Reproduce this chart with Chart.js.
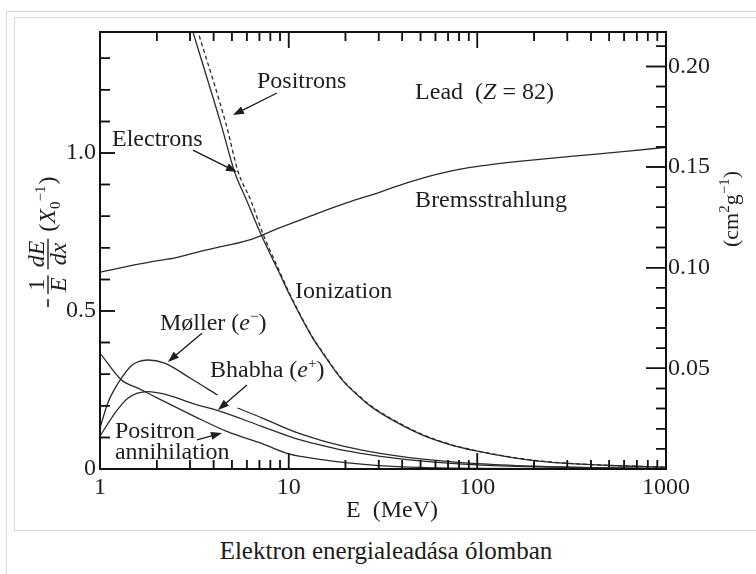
<!DOCTYPE html>
<html><head><meta charset="utf-8">
<script src="https://cdn.jsdelivr.net/npm/chart.js@4/dist/chart.umd.min.js"></script>
<style>
html,body{margin:0;padding:0;background:#fff;width:756px;height:574px;overflow:hidden;}
#outer{position:absolute;left:6px;top:11px;width:800px;height:600px;border:1px solid #d4d6d9;box-sizing:border-box;}
#inner{position:absolute;left:14px;top:17px;width:800px;height:514px;border:1px solid #d4d6d9;box-sizing:border-box;}
#wrap{position:absolute;left:0;top:0;width:756px;height:530px;z-index:2;}
#ov{position:absolute;left:0;top:0;width:756px;height:530px;z-index:5;pointer-events:none;}
#cap{position:absolute;left:14px;width:744px;top:536px;text-align:center;font:25px 'Liberation Serif','Times New Roman',serif;color:#1a1a1a;line-height:30px;}
</style></head>
<body>
<div id="outer"></div>
<div id="inner"></div>
<div id="wrap"><canvas id="c"></canvas></div>
<canvas id="ov" width="756" height="530"></canvas>
<div id="cap">Elektron energialeadása ólomban</div>
<script>
// ---- data ----
const X0_LEAD = 6.37;          // g/cm^2 : converts left axis (X0^-1) to right axis (cm^2 g^-1)
const Y_MAX = 1.383;
const energyTickLabels = [1, 10, 100, 1000];
const leftTickLabels = [0, 0.5, 1.0];
const rightTickLabels = [0.05, 0.10, 0.15, 0.20];

const bremsE = [1, 1.5, 1.95, 2.5, 3.18, 4.5, 6.35, 8.93, 13, 20.2, 30, 41.9, 60, 82.6, 100, 120, 151, 250, 400, 650, 1000];
const bremsV = [0.623, 0.645, 0.658, 0.668, 0.684, 0.705, 0.727, 0.763, 0.80, 0.842, 0.875, 0.905, 0.932, 0.950, 0.958, 0.964, 0.971, 0.984, 0.995, 1.007, 1.018];

const ionElE = [3.0, 3.11, 4.39, 5.17, 6.0, 7.15, 8.93, 10.1, 13.3, 15, 19.2, 24.5, 27.7, 35, 50.9, 70, 98.5, 150, 211, 300, 500, 1000];
const ionElV = [1.414, 1.383, 1.089, 0.940, 0.849, 0.741, 0.620, 0.552, 0.418, 0.371, 0.282, 0.221, 0.195, 0.157, 0.108, 0.079, 0.057, 0.037, 0.025, 0.0176, 0.011, 0.0055];

const ionPoE = [3.19, 3.31, 4.67, 5.4, 6.3, 7.3, 9.0, 10.1, 13.3, 15, 19.2, 24.5, 27.7, 35, 50.9, 70, 98.5, 150, 211, 300, 500, 1000];
const ionPoV = [1.414, 1.383, 1.089, 0.940, 0.850, 0.745, 0.622, 0.556, 0.420, 0.373, 0.284, 0.223, 0.197, 0.159, 0.110, 0.080, 0.058, 0.038, 0.026, 0.018, 0.0115, 0.006];

const mollerE = [1, 1.1, 1.2, 1.31, 1.48, 1.6, 1.79, 2.2, 3.0, 4.2, 4.7, 5.35, 7.2, 10.7, 15, 20, 30, 50, 100, 200, 400, 1000];
const mollerV = [0.13, 0.209, 0.255, 0.291, 0.329, 0.340, 0.345, 0.335, 0.288, 0.234, null, 0.193, 0.162, 0.118, 0.090, 0.071, 0.050, 0.032, 0.017, 0.009, 0.0045, 0.002];

const bhabhaE = [1, 1.2, 1.41, 1.79, 2.2, 3.18, 4.3, 7.2, 10.7, 15, 20, 30, 50, 100, 200, 400, 1000];
const bhabhaV = [0.104, 0.177, 0.225, 0.245, 0.237, 0.205, 0.183, 0.135, 0.098, 0.075, 0.058, 0.041, 0.026, 0.013, 0.0065, 0.0033, 0.0014];

const annihE = [1, 1.3, 1.6, 2.12, 3.18, 4.74, 7.18, 10, 15, 20, 30, 50, 100, 1000];
const annihV = [0.367, 0.282, 0.255, 0.218, 0.166, 0.118, 0.081, 0.048, 0.030, 0.020, 0.011, 0.005, 0.002, 0.0002];

// ---- annotation anchors (data coordinates: energy, value) ----
const labelDefs = [
  {parts:[{t:'Positrons'}], E:6.79, v:1.206},
  {parts:[{t:'Electrons'}], E:1.158, v:1.022},
  {parts:[{t:'Lead  ('},{t:'Z',i:1},{t:' = 82)'}], E:46.8, v:1.171},
  {parts:[{t:'Bremsstrahlung'}], E:46.8, v:0.829},
  {parts:[{t:'Ionization'}], E:10.8, v:0.541},
  {parts:[{t:'Møller ('},{t:'e',i:1},{t:'−',s:15,dy:-9},{t:')'}], E:2.08, v:0.440},
  {parts:[{t:'Bhabha ('},{t:'e',i:1},{t:'+',s:15,dy:-9},{t:')'}], E:3.83, v:0.291},
  {parts:[{t:'Positron'}], E:1.2, v:0.098},
  {parts:[{t:'annihilation'}], E:1.2, v:0.032},
];
const arrowDefs = [
  {from:[8.67,1.190], to:[5.07,1.120]},
  {from:[3.11,1.009], to:[5.32,0.940]},
  {from:[3.47,0.430], to:[2.29,0.339]},
  {from:[6.01,0.266], to:[4.22,0.187]},
  {from:[3.27,0.092], to:[4.43,0.114]},
];

const FAM = "'Liberation Serif','Times New Roman',serif";
const INK = '#1e1e1e';

function mk(E, V, extra) {
  return Object.assign({
    data: E.map((e, i) => ({x: e, y: V[i]})),
    yAxisID: 'y', borderColor: '#2a2a2a', borderWidth: 1.3, pointRadius: 0,
    fill: false, cubicInterpolationMode: 'monotone', spanGaps: false
  }, extra);
}

function rich(ctx, parts, x, y, size) {
  for (const p of parts) {
    ctx.font = (p.i ? 'italic ' : '') + (p.s || size) + 'px ' + FAM;
    ctx.fillText(p.t, x, y + (p.dy || 0));
    x += ctx.measureText(p.t).width + (p.k || 0);
  }
  return x;
}
function richWidth(ctx, parts, size) {
  let w = 0;
  for (const p of parts) {
    ctx.font = (p.i ? 'italic ' : '') + (p.s || size) + 'px ' + FAM;
    w += ctx.measureText(p.t).width + (p.k || 0);
  }
  return w;
}
function arrow(ctx, x1, y1, x2, y2) {
  const a = Math.atan2(y2 - y1, x2 - x1), L = 11, W = 4;
  ctx.beginPath(); ctx.moveTo(x1, y1); ctx.lineTo(x2 - Math.cos(a) * L * 0.8, y2 - Math.sin(a) * L * 0.8); ctx.stroke();
  ctx.beginPath();
  ctx.moveTo(x2, y2);
  ctx.lineTo(x2 - Math.cos(a) * L - Math.sin(a) * W, y2 - Math.sin(a) * L + Math.cos(a) * W);
  ctx.lineTo(x2 - Math.cos(a) * L + Math.sin(a) * W, y2 - Math.sin(a) * L - Math.cos(a) * W);
  ctx.closePath(); ctx.fill();
}
function fraction(ctx, num, den, u) {
  const wn = richWidth(ctx, num, 24), wd = richWidth(ctx, den, 24);
  const w = Math.max(wn, wd) + 4;
  rich(ctx, num, u + (w - wn) / 2, -4, 24);
  rich(ctx, den, u + (w - wd) / 2, 18, 24);
  ctx.fillRect(u, -0.7, w, 1.4);
  return u + w;
}

// inward tick marks, positioned through the chart's own scales
function drawTicks(chart, ctx) {
  const a = chart.chartArea;
  const xs = chart.scales.x, ys = chart.scales.y, y2 = chart.scales.y2;
  ctx.save();
  ctx.globalAlpha = 1;
  ctx.globalCompositeOperation = 'source-over';
  ctx.strokeStyle = '#111111';
  ctx.lineWidth = 1.5;
  ctx.beginPath();
  for (const d of [1, 10, 100]) {
    for (const m of [1, 2, 3, 4, 5, 6, 7, 8, 9]) {
      const px = xs.getPixelForValue(m * d), len = m === 1 ? 16 : 9;
      ctx.moveTo(px, a.bottom); ctx.lineTo(px, a.bottom - len);
      ctx.moveTo(px, a.top); ctx.lineTo(px, a.top + len);
    }
  }
  for (let k = 1; k <= 13; k++) {
    const py = ys.getPixelForValue(k / 10), len = (k % 5 === 0) ? 15 : 10;
    ctx.moveTo(a.left, py); ctx.lineTo(a.left + len, py);
  }
  for (let k = 1; k <= 21; k++) {
    const py = y2.getPixelForValue(k / 100), len = (k % 5 === 0) ? 20 : 10;
    ctx.moveTo(a.right, py); ctx.lineTo(a.right - len, py);
  }
  ctx.stroke();
  ctx.lineWidth = 2;
  ctx.strokeRect(a.left, a.top, a.right - a.left, a.bottom - a.top);
  ctx.restore();
}

const axesDecor = {
  id: 'axesDecor',
  afterDraw(chart) {
    drawTicks(chart, chart.ctx);
    const ov = document.getElementById('ov');
    const octx = ov.getContext('2d');
    octx.setTransform(1, 0, 0, 1, 0, 0);
    octx.clearRect(0, 0, ov.width, ov.height);
    drawTicks(chart, octx);
  }
};

const textDecor = {
  id: 'textDecor',
  afterDatasetsDraw(chart) {
    const ctx = chart.ctx, a = chart.chartArea;
    const xs = chart.scales.x, ys = chart.scales.y;
    ctx.save();
    ctx.fillStyle = INK;
    ctx.textBaseline = 'alphabetic'; ctx.textAlign = 'left';
    for (const L of labelDefs) {
      rich(ctx, L.parts, xs.getPixelForValue(L.E), ys.getPixelForValue(L.v), 24);
    }
    ctx.lineWidth = 1.3; ctx.strokeStyle = '#1a1a1a';
    for (const A of arrowDefs) {
      arrow(ctx, xs.getPixelForValue(A.from[0]), ys.getPixelForValue(A.from[1]),
                 xs.getPixelForValue(A.to[0]), ys.getPixelForValue(A.to[1]));
    }
    const xt = [{t:'E  (MeV)'}];
    const cx = (a.left + a.right) / 2 + 9;
    rich(ctx, xt, cx - richWidth(ctx, xt, 24) / 2, a.bottom + 48, 24);
    ctx.save();
    ctx.translate(a.left - 52, a.bottom - 162);
    ctx.rotate(-Math.PI / 2);
    ctx.fillRect(0, -0.8, 8, 1.6);
    let u = fraction(ctx, [{t:'1'}], [{t:'E', i:1}], 13);
    u = fraction(ctx, [{t:'dE', i:1}], [{t:'dx', i:1}], u + 6);
    rich(ctx, [{t:'('},{t:'X',i:1},{t:'0',s:15,dy:5},{t:'−1',s:15,dy:-10,k:1},{t:')'}], u + 7, 7, 24);
    ctx.restore();
    ctx.save();
    ctx.translate(a.right + 72, a.top + 215);
    ctx.rotate(-Math.PI / 2);
    rich(ctx, [{t:'(cm'},{t:'2',s:15,dy:-9},{t:'g'},{t:'−1',s:15,dy:-9},{t:')'}], 0, 0, 22);
    ctx.restore();
    ctx.restore();
  }
};

const tickFont = {family: FAM, size: 24};
new Chart(document.getElementById('c'), {
  type: 'line',
  data: {datasets: [
    mk(bremsE, bremsV, {}),
    mk(ionElE, ionElV, {}),
    mk(ionPoE, ionPoV, {borderDash: [4, 3]}),
    mk(mollerE, mollerV, {}),
    mk(bhabhaE, bhabhaV, {}),
    mk(annihE, annihV, {}),
  ]},
  options: {
    responsive: true, maintainAspectRatio: false, animation: false,
    layout: {padding: {top: 32, left: 0, right: 0, bottom: 0}},
    plugins: {legend: {display: false}, tooltip: {enabled: false}},
    scales: {
      x: {type: 'logarithmic', position: 'bottom', min: 1, max: 1000,
          grid: {display: false, drawTicks: false}, border: {display: false},
          afterBuildTicks: s => { s.ticks = energyTickLabels.map(v => ({value: v})); },
          afterFit: s => { s.height = 61; },
          ticks: {font: tickFont, color: INK, padding: 4, maxRotation: 0, autoSkip: false,
                  callback: v => String(v)}},
      y: {type: 'linear', position: 'left', min: 0, max: Y_MAX,
          grid: {display: false, drawTicks: false}, border: {display: false},
          afterBuildTicks: s => { s.ticks = leftTickLabels.map(v => ({value: v})); },
          afterFit: s => { s.width = 100; },
          ticks: {font: tickFont, color: INK, padding: 4, autoSkip: false,
                  callback: v => v === 0 ? '0' : v.toFixed(1)}},
      y2: {type: 'linear', position: 'right', min: 0, max: Y_MAX / X0_LEAD,
          grid: {display: false, drawTicks: false}, border: {display: false},
          afterBuildTicks: s => { s.ticks = rightTickLabels.map(v => ({value: v})); },
          afterFit: s => { s.width = 90; },
          ticks: {font: tickFont, color: INK, padding: 2, autoSkip: false,
                  callback: v => v.toFixed(2)}}
    }
  },
  plugins: [textDecor, axesDecor]
});
</script>
</body></html>
